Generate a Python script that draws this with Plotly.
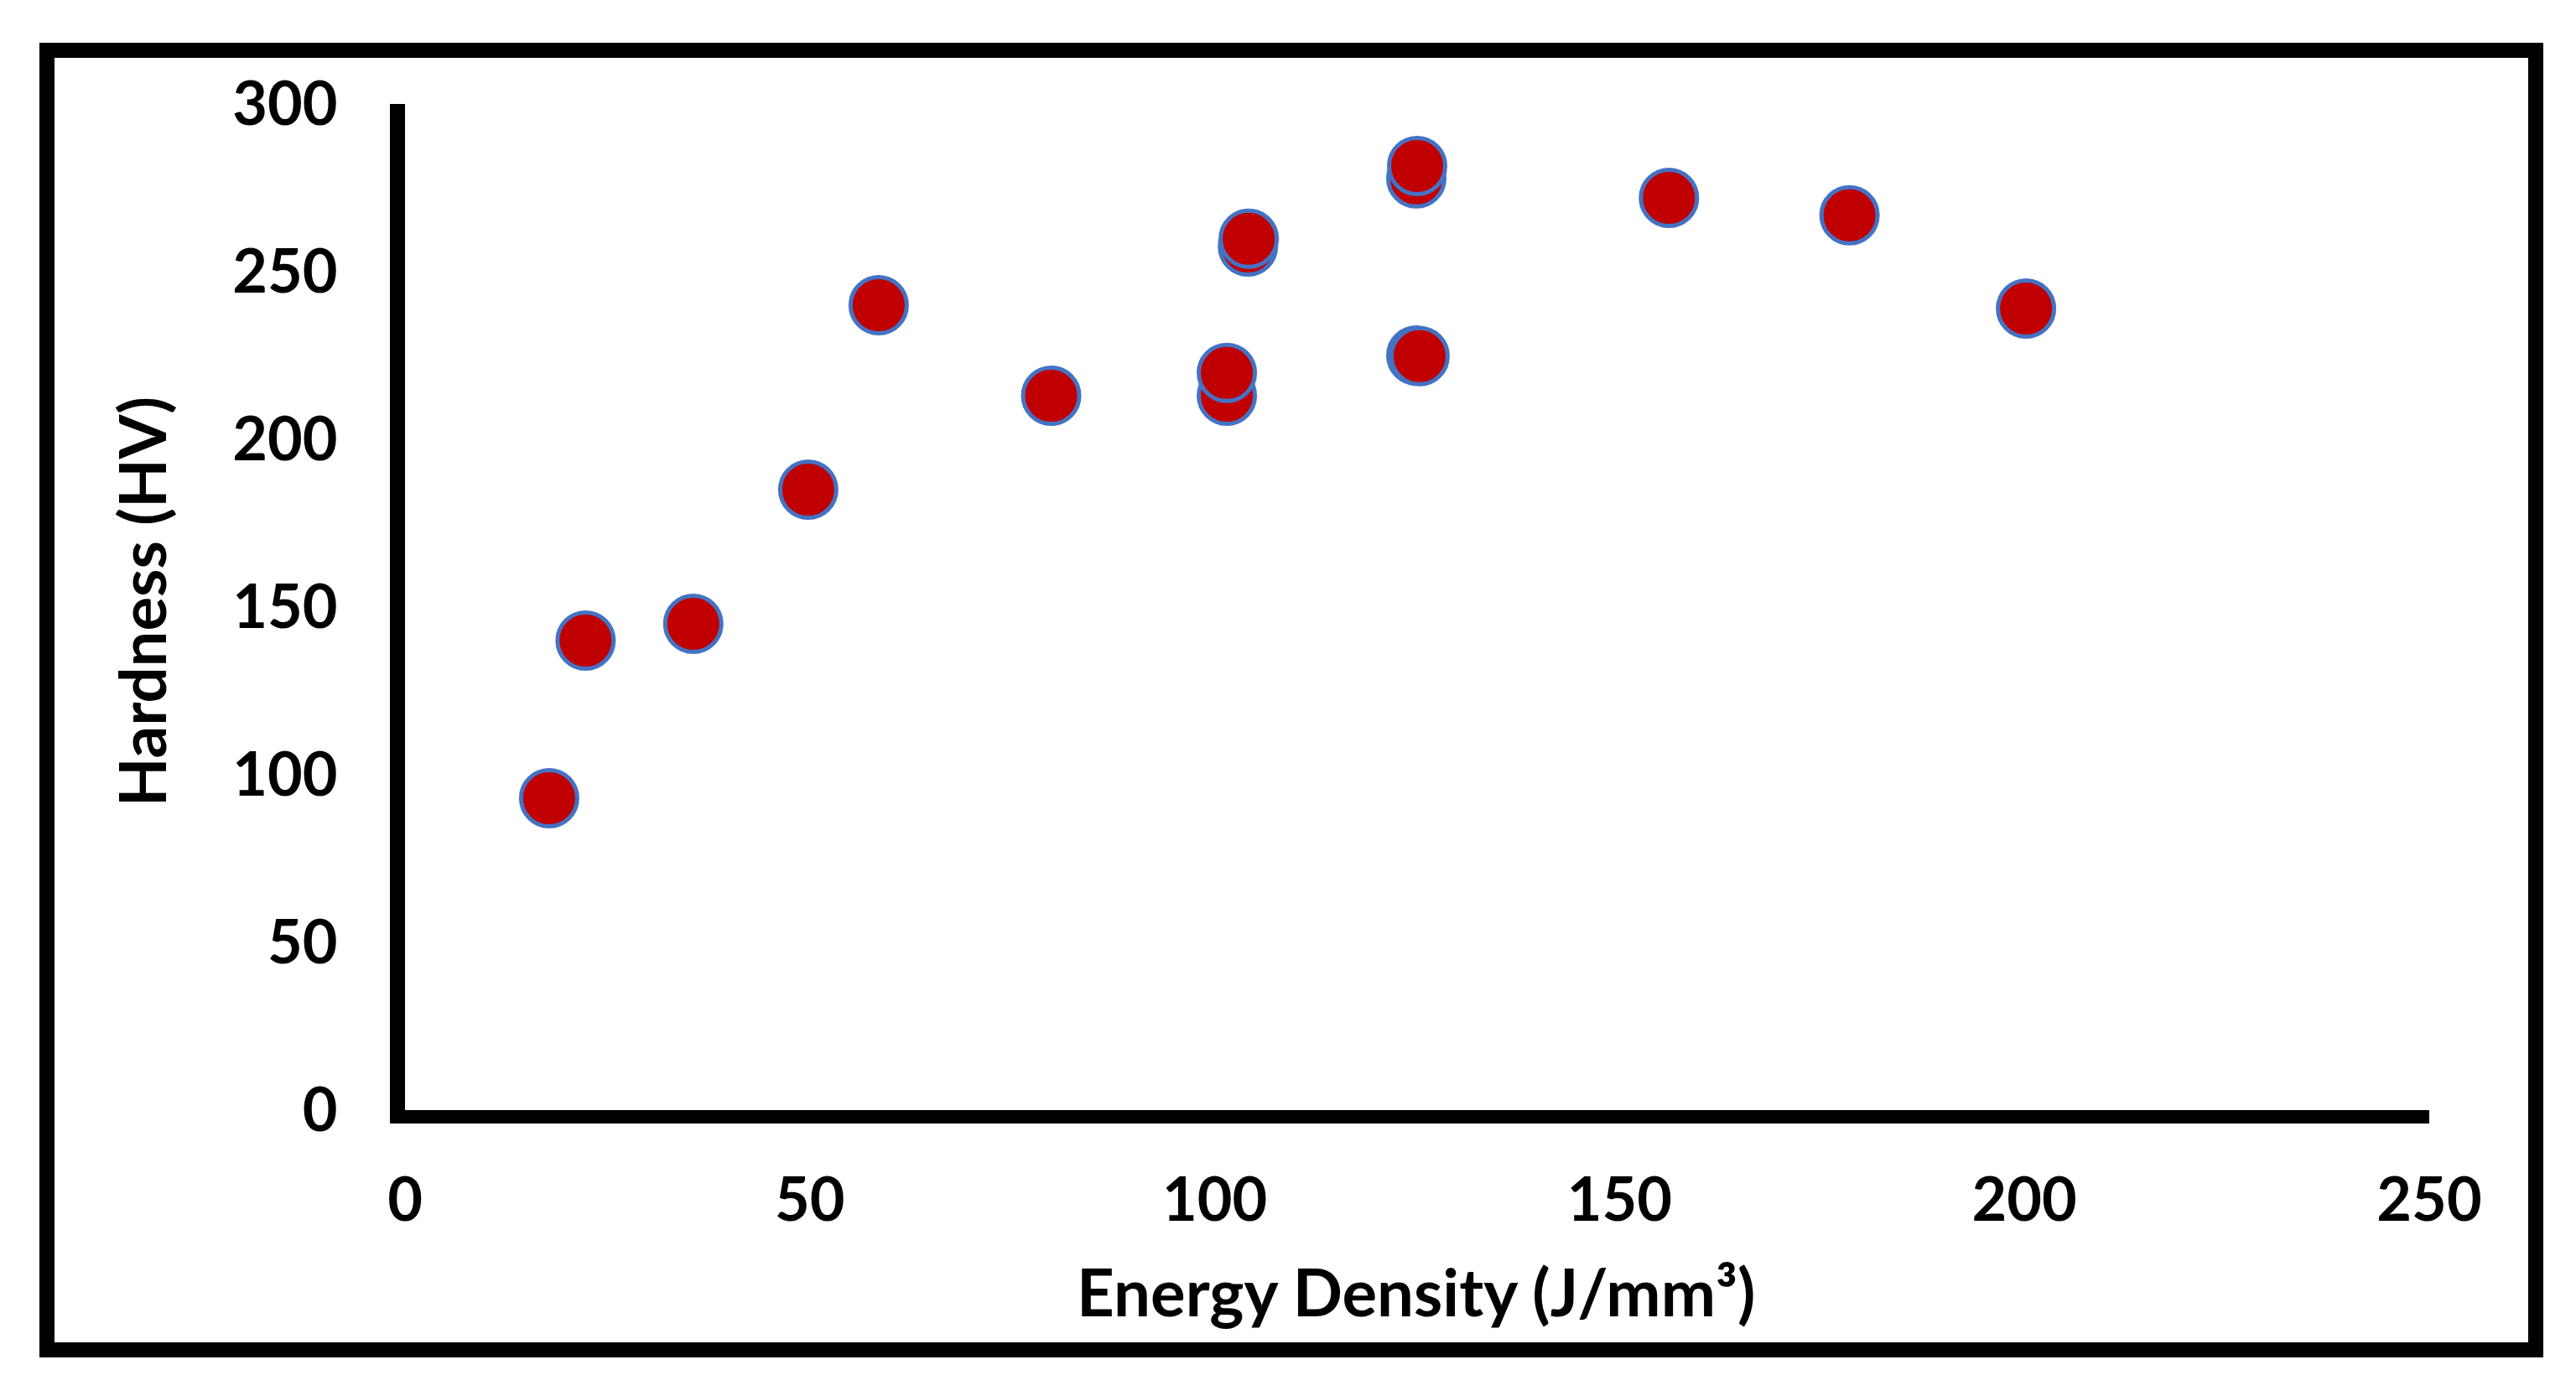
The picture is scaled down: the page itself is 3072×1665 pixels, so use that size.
import plotly.graph_objects as go

# Data
energy_density = [17.8, 22.3, 35.6, 49.8, 58.5, 79.8, 101.5, 101.5, 104.1, 104.2,
                  124.9, 125.3, 124.9, 125.0, 156.1, 178.4, 200.2]
hardness = [93.0, 140.0, 145.0, 185.0, 240.0, 213.0, 213.0, 219.8, 257.5, 259.8,
            225.0, 224.8, 277.8, 281.5, 272.0, 266.8, 239.0]
x_ticks = [0, 50, 100, 150, 200, 250]
y_ticks = [0, 50, 100, 150, 200, 250, 300]
x_title = "Energy Density (J/mm³)"
y_title = "Hardness (HV)"

W, H = 3072, 1665
L, R, T, B = 483, 2897, 124, 1324
FONT = "Lato"

fig = go.Figure()
fig.add_trace(go.Scatter(
    x=energy_density, y=hardness, mode="markers",
    marker=dict(size=67, color="#C00000", line=dict(color="#4472C4", width=5)),
    showlegend=False, cliponaxis=False,
))

pw, ph = R - L, B - T
def px(v):
    return (v - L) / pw
def py(v):
    return (B - v) / ph

fig.update_layout(
    width=W, height=H,
    margin=dict(l=L, r=W - R, t=T, b=H - B, pad=0, autoexpand=False),
    paper_bgcolor="white", plot_bgcolor="white",
    font=dict(family=FONT, color="black"),
    xaxis=dict(
        range=[0, 250], tickvals=x_ticks, ticktext=[str(v) for v in x_ticks],
        showgrid=False, zeroline=False, showline=True, linecolor="black", linewidth=16,
        ticks="", ticklabelstandoff=30, automargin=False,
        tickfont=dict(family=FONT, size=72, color="black", weight="bold"),
    ),
    yaxis=dict(
        range=[0, 300], tickvals=y_ticks, ticktext=[str(v) for v in y_ticks],
        showgrid=False, zeroline=False, showline=True, linecolor="black", linewidth=18,
        ticks="", ticklabelstandoff=48, automargin=False,
        tickfont=dict(family=FONT, size=72, color="black", weight="bold"),
    ),
    annotations=[
        dict(text=x_title, xref="paper", yref="paper", x=px(1688), y=py(1540),
             xanchor="center", yanchor="middle", showarrow=False,
             font=dict(family=FONT, size=78, color="black", weight="bold")),
        dict(text=y_title, xref="paper", yref="paper", x=px(168), y=py(718),
             xanchor="center", yanchor="middle", showarrow=False, textangle=-90,
             font=dict(family=FONT, size=76, color="black", weight="bold")),
    ],
    shapes=[dict(
        type="rect", xref="paper", yref="paper",
        x0=px(56), x1=px(3024), y0=py(1610), y1=py(60),
        line=dict(color="black", width=18), fillcolor="rgba(0,0,0,0)", layer="above",
    )],
)

fig.write_html("out.html", config={"displayModeBar": False},
               post_script="document.body.style.margin='0px';document.body.style.overflow='hidden';")
